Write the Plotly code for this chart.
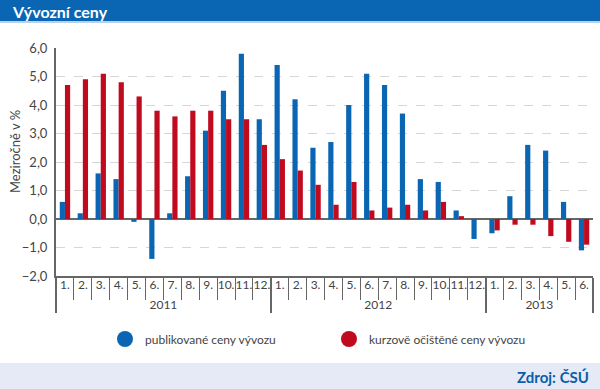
import plotly.graph_objects as go

years = ["2011"] * 12 + ["2012"] * 12 + ["2013"] * 6
months = [f"{m}." for m in range(1, 13)] * 2 + [f"{m}." for m in range(1, 7)]

published = [0.6, 0.2, 1.6, 1.4, -0.1, -1.4, 0.2, 1.5, 3.1, 4.5, 5.8, 3.5,
             5.4, 4.2, 2.5, 2.7, 4.0, 5.1, 4.7, 3.7, 1.4, 1.3, 0.3, -0.7,
             -0.5, 0.8, 2.6, 2.4, 0.6, -1.1]
adjusted = [4.7, 4.9, 5.1, 4.8, 4.3, 3.8, 3.6, 3.8, 3.8, 3.5, 3.5, 2.6,
            2.1, 1.7, 1.2, 0.5, 1.3, 0.3, 0.4, 0.5, 0.3, 0.6, 0.1, 0.0,
            -0.4, -0.2, -0.2, -0.6, -0.8, -0.9]

name_pub = "publikované ceny vývozu"
name_adj = "kurzově očištěné ceny vývozu"
title_text = "Vývozní ceny"
ytitle = "Meziročně v %"
source_text = "Zdroj: ČSÚ"

BLUE = "#0a66b2"
RED = "#c00a1e"
FONT = "Lato"

# geometry (pixels)
W, H = 600, 389
L, R, T, B = 56, 7, 48, 113
PW, PH = W - L - R, H - T - B


def px(x):
    return (x - L) / PW


def py(y):
    return (H - B - y) / PH


fig = go.Figure()
fig.add_trace(go.Bar(x=[years, months], y=published, name=name_pub,
                     marker=dict(color=BLUE, line=dict(width=0)), showlegend=False))
fig.add_trace(go.Bar(x=[years, months], y=adjusted, name=name_adj,
                     marker=dict(color=RED, line=dict(width=0)), showlegend=False))
# legend entries with round symbols
fig.add_trace(go.Scatter(x=[None], y=[None], mode="markers", name=name_pub,
                         marker=dict(color=BLUE, size=19, symbol="circle"), legend="legend"))
fig.add_trace(go.Scatter(x=[None], y=[None], mode="markers", name=name_adj,
                         marker=dict(color=RED, size=19, symbol="circle"), legend="legend2"))

fig.update_layout(
    width=W, height=H,
    margin=dict(l=L, r=R, t=T, b=B, pad=0, autoexpand=False),
    paper_bgcolor="white", plot_bgcolor="white",
    separators=", ",
    barmode="group", bargap=0.42, bargroupgap=0,
    font=dict(family=FONT, color="#444", size=12),
    legend=dict(orientation="h", x=px(105), xanchor="left", y=py(339), yanchor="middle",
                font=dict(size=12, color="#444"), itemsizing="trace", bgcolor="rgba(0,0,0,0)"),
    legend2=dict(orientation="h", x=px(329), xanchor="left", y=py(339), yanchor="middle",
                 font=dict(size=12, color="#444"), itemsizing="trace", bgcolor="rgba(0,0,0,0)"),
    xaxis=dict(type="multicategory", automargin=False, showgrid=False, showline=True,
               linecolor="#666", linewidth=2, tickangle=0,
               ticks="outside", tickson="boundaries", ticklen=22, tickcolor="#666", tickwidth=1,
               ticklabelstandoff=-3,
               showdividers=True, dividercolor="#666", dividerwidth=2,
               tickfont=dict(size=12, color="#444")),
    yaxis=dict(range=[-2, 6], dtick=1, tickformat=".1f", automargin=False, showgrid=True,
               gridcolor="#d6d6d6", griddash="dash", gridwidth=1, zeroline=True,
               zerolinecolor="#666", zerolinewidth=2,
               showline=True, linecolor="#666", linewidth=2, ticks="", ticklabelstandoff=4,
               tickfont=dict(size=13, color="#444")),
    shapes=[
        dict(type="rect", xref="paper", yref="paper", x0=px(0), x1=px(W), y0=py(21), y1=py(0),
             fillcolor=BLUE, line=dict(width=0), layer="below"),
        dict(type="rect", xref="paper", yref="paper", x0=px(0), x1=px(W), y0=py(23), y1=py(21),
             fillcolor="#b9d2ea", line=dict(width=0), layer="below"),
        dict(type="rect", xref="paper", yref="paper", x0=px(0), x1=px(W), y0=py(H), y1=py(363),
             fillcolor="#e6eaf6", line=dict(width=0), layer="below"),
    ],
    annotations=[
        dict(text=f"<b>{title_text}</b>", xref="paper", yref="paper", x=px(10), y=py(11),
             xanchor="left", yanchor="middle", showarrow=False,
             font=dict(size=16, color="white", family=FONT)),
        dict(text=f"<b>{source_text}</b>", xref="paper", yref="paper", x=px(591), y=py(377),
             xanchor="right", yanchor="middle", showarrow=False,
             font=dict(size=15, color="#0a5ea8", family=FONT)),
        dict(text=ytitle, xref="paper", yref="paper", x=px(15), y=py(152),
             xanchor="center", yanchor="middle", showarrow=False, textangle=-90,
             font=dict(size=13, color="#444", family=FONT)),
    ],
)

fig.write_html("out.html", config={"displayModeBar": False},
               post_script="document.body.style.margin='0';")
